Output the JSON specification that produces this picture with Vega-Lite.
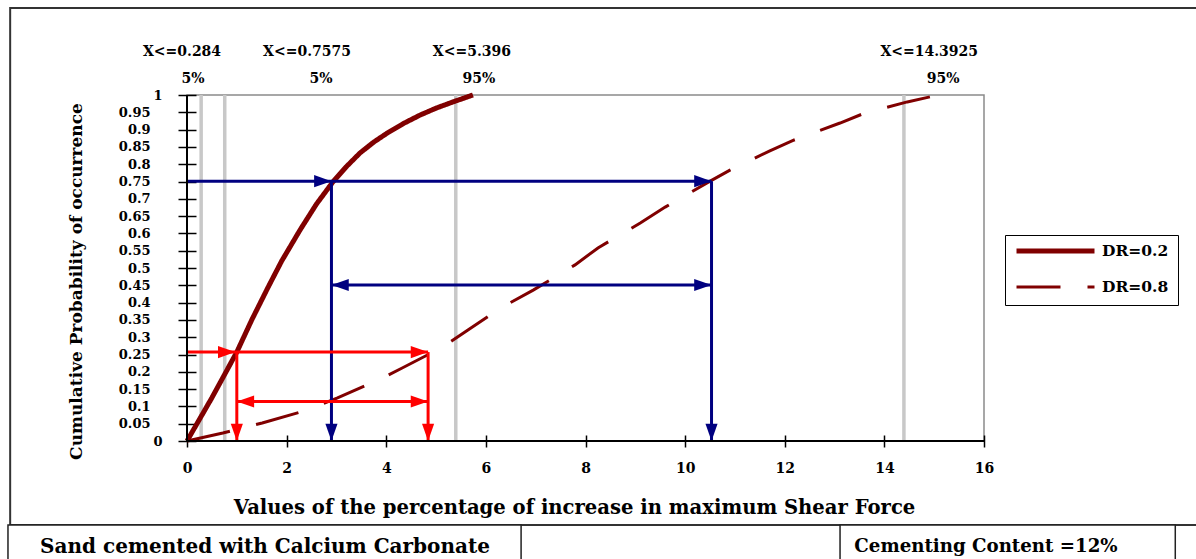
{
  "$schema": "https://vega.github.io/schema/vega-lite/v6.json",
  "width": 797,
  "height": 346,
  "autosize": {"type": "none"},
  "padding": {"left": 187, "top": 95, "right": 212, "bottom": 118},
  "background": "white",
  "config": {
    "view": {"stroke": "#8a8a8a", "strokeWidth": 1.5},
    "font": "DejaVu Serif",
    "axisX": {
      "tickCount": 8, "format": "d", "offset": -6, "tickSize": 12, "domain": false, "grid": false,
      "tickColor": "black", "tickWidth": 1.5, "labelFlush": false,
      "labelFont": "DejaVu Serif", "labelFontWeight": "bold", "labelFontSize": 14, "labelColor": "black",
      "labelPadding": 14
    },
    "axisY": {
      "tickCount": 20, "format": "~g", "offset": -9, "tickSize": 18, "domain": false, "grid": false,
      "tickColor": "black", "tickWidth": 1.5, "labelFlush": false,
      "labelFont": "DejaVu Serif", "labelFontWeight": "bold", "labelFontSize": 13, "labelColor": "black",
      "labelPadding": 28, "labelOverlap": false, "labelBound": false
    }
  },
  "datasets": {
    "curves": [
      {"series": "DR=0.2", "x": 0, "p": 0},
      {"series": "DR=0.2", "x": 0.5, "p": 0.125},
      {"series": "DR=0.2", "x": 1.0, "p": 0.257},
      {"series": "DR=0.2", "x": 1.3, "p": 0.35},
      {"series": "DR=0.2", "x": 1.63, "p": 0.445},
      {"series": "DR=0.2", "x": 1.9, "p": 0.52},
      {"series": "DR=0.2", "x": 2.27, "p": 0.61},
      {"series": "DR=0.2", "x": 2.6, "p": 0.685},
      {"series": "DR=0.2", "x": 2.93, "p": 0.749},
      {"series": "DR=0.2", "x": 3.2, "p": 0.793},
      {"series": "DR=0.2", "x": 3.47, "p": 0.832},
      {"series": "DR=0.2", "x": 3.75, "p": 0.864},
      {"series": "DR=0.2", "x": 4.02, "p": 0.89},
      {"series": "DR=0.2", "x": 4.35, "p": 0.918},
      {"series": "DR=0.2", "x": 4.68, "p": 0.942},
      {"series": "DR=0.2", "x": 5.0, "p": 0.962},
      {"series": "DR=0.2", "x": 5.34, "p": 0.98},
      {"series": "DR=0.2", "x": 5.74, "p": 1.0},
      {"series": "DR=0.8", "x": 0, "p": 0},
      {"series": "DR=0.8", "x": 0.72, "p": 0.023},
      {"series": "DR=0.8", "x": 1.51, "p": 0.052},
      {"series": "DR=0.8", "x": 2.43, "p": 0.09},
      {"series": "DR=0.8", "x": 3.01, "p": 0.124},
      {"series": "DR=0.8", "x": 3.84, "p": 0.176},
      {"series": "DR=0.8", "x": 4.32, "p": 0.211},
      {"series": "DR=0.8", "x": 5.14, "p": 0.272},
      {"series": "DR=0.8", "x": 5.64, "p": 0.321},
      {"series": "DR=0.8", "x": 6.29, "p": 0.384},
      {"series": "DR=0.8", "x": 6.95, "p": 0.436},
      {"series": "DR=0.8", "x": 7.79, "p": 0.509},
      {"series": "DR=0.8", "x": 8.25, "p": 0.558},
      {"series": "DR=0.8", "x": 9.1, "p": 0.63},
      {"series": "DR=0.8", "x": 9.6, "p": 0.676},
      {"series": "DR=0.8", "x": 10.44, "p": 0.746},
      {"series": "DR=0.8", "x": 10.9, "p": 0.783},
      {"series": "DR=0.8", "x": 11.69, "p": 0.838},
      {"series": "DR=0.8", "x": 12.19, "p": 0.87},
      {"series": "DR=0.8", "x": 13.11, "p": 0.919},
      {"series": "DR=0.8", "x": 13.61, "p": 0.948},
      {"series": "DR=0.8", "x": 14.46, "p": 0.98},
      {"series": "DR=0.8", "x": 15.08, "p": 1.0}
    ],
    "markers": [{"v": 0.284}, {"v": 0.7575}, {"v": 5.396}, {"v": 14.3925}],
    "arrows": [
      {"level": "p75", "x": 0, "x2": 10.53, "y": 0.751, "y2": 0.751},
      {"level": "p75", "x": 2.9, "x2": 2.9, "y": 0.751, "y2": 0},
      {"level": "p75", "x": 10.53, "x2": 10.53, "y": 0.751, "y2": 0},
      {"level": "p75", "x": 2.9, "x2": 10.53, "y": 0.451, "y2": 0.451},
      {"level": "p25", "x": 0, "x2": 4.84, "y": 0.257, "y2": 0.257},
      {"level": "p25", "x": 1.0, "x2": 1.0, "y": 0.257, "y2": 0},
      {"level": "p25", "x": 4.84, "x2": 4.84, "y": 0.257, "y2": 0},
      {"level": "p25", "x": 1.0, "x2": 4.84, "y": 0.114, "y2": 0.114}
    ],
    "heads": [
      {"level": "p75", "x": 2.9, "y": 0.751, "dir": "right"},
      {"level": "p75", "x": 10.53, "y": 0.751, "dir": "right"},
      {"level": "p75", "x": 2.9, "y": 0, "dir": "down"},
      {"level": "p75", "x": 10.53, "y": 0, "dir": "down"},
      {"level": "p75", "x": 2.9, "y": 0.451, "dir": "left"},
      {"level": "p75", "x": 10.53, "y": 0.451, "dir": "right"},
      {"level": "p25", "x": 0.97, "y": 0.257, "dir": "right"},
      {"level": "p25", "x": 4.84, "y": 0.257, "dir": "right"},
      {"level": "p25", "x": 1.0, "y": 0, "dir": "down"},
      {"level": "p25", "x": 4.84, "y": 0, "dir": "down"},
      {"level": "p25", "x": 1.0, "y": 0.114, "dir": "left"},
      {"level": "p25", "x": 4.84, "y": 0.114, "dir": "right"}
    ],
    "toplabels": [
      {"t": "X<=0.284", "lx": -0.1, "ly": 1.124},
      {"t": "5%", "lx": 0.12, "ly": 1.046},
      {"t": "X<=0.7575", "lx": 2.41, "ly": 1.124},
      {"t": "5%", "lx": 2.69, "ly": 1.046},
      {"t": "X<=5.396", "lx": 5.72, "ly": 1.124},
      {"t": "95%", "lx": 5.86, "ly": 1.046},
      {"t": "X<=14.3925", "lx": 14.9, "ly": 1.124},
      {"t": "95%", "lx": 15.18, "ly": 1.046}
    ],
    "notes": [
      {"t": "Sand cemented with Calcium Carbonate", "lx": 1.566, "ly": -0.306},
      {"t": "Cementing Content =12%", "lx": 16.04, "ly": -0.306}
    ]
  },
  "layer": [
    {
      "data": {"name": "markers"},
      "mark": {"type": "rule", "color": "#c8c8c8", "strokeWidth": 3.5},
      "encoding": {
        "x": {
          "field": "v", "type": "quantitative",
          "scale": {"domain": [0, 16], "nice": false, "zero": false},
          "axis": {
            "title": "Values of the percentage of increase in maximum Shear Force",
            "titleFont": "DejaVu Serif", "titleFontWeight": "bold", "titleFontSize": 19.6, "titleColor": "black",
            "titleX": 387, "titleY": 72, "titleAlign": "center", "titleBaseline": "middle"
          }
        },
        "y": {
          "datum": 0, "type": "quantitative",
          "scale": {"domain": [0, 1], "nice": false, "zero": false},
          "axis": {
            "title": "Cumulative Probability of occurrence",
            "labelPadding": {"condition": {"test": "datum.value == 0 || datum.value == 1", "value": 16}, "value": 28},
            "titleFont": "DejaVu Serif", "titleFontWeight": "bold", "titleFontSize": 17, "titleColor": "black",
            "titleX": -120, "titleY": 186, "titleAlign": "center", "titleBaseline": "middle", "titleAngle": -90
          }
        },
        "y2": {"datum": 1}
      }
    },
    {
      "data": {"values": [{}]},
      "mark": {"type": "rect", "fill": "transparent", "stroke": "#333333", "strokeWidth": 2, "clip": false},
      "encoding": {
        "x": {"datum": -3.55, "type": "quantitative"},
        "x2": {"datum": 20.44},
        "y": {"datum": 1.2514, "type": "quantitative"},
        "y2": {"datum": -0.2428}
      }
    },
    {
      "data": {"values": [{}]},
      "mark": {"type": "rect", "fill": "white", "stroke": "#222222", "strokeWidth": 1.5, "clip": false},
      "encoding": {
        "x": {"datum": -3.594, "type": "quantitative"},
        "x2": {"datum": 6.707},
        "y": {"datum": -0.2428, "type": "quantitative"},
        "y2": {"datum": -0.37}
      }
    },
    {
      "data": {"values": [{}]},
      "mark": {"type": "rect", "fill": "white", "stroke": "#222222", "strokeWidth": 1.5, "clip": false},
      "encoding": {
        "x": {"datum": 13.11, "type": "quantitative"},
        "x2": {"datum": 19.84},
        "y": {"datum": -0.2428, "type": "quantitative"},
        "y2": {"datum": -0.37}
      }
    },
    {
      "data": {"name": "curves"},
      "mark": {"type": "line", "clip": false},
      "encoding": {
        "x": {"field": "x", "type": "quantitative"},
        "y": {"field": "p", "type": "quantitative"},
        "color": {
          "field": "series", "type": "nominal",
          "scale": {"domain": ["DR=0.2", "DR=0.8"], "range": ["#800000", "#800000"]},
          "legend": {
            "orient": "none", "legendX": 818, "legendY": 140, "title": null,
            "strokeColor": "black", "padding": 9, "symbolType": "stroke", "symbolSize": 6084,
            "clipHeight": 14,
            "labelFont": "DejaVu Serif", "labelFontWeight": "bold", "labelFontSize": 15.5, "labelColor": "black",
            "rowPadding": 20, "labelOffset": 5
          }
        },
        "strokeDash": {
          "field": "series", "type": "nominal",
          "scale": {"domain": ["DR=0.2", "DR=0.8"], "range": [[1, 0], [44, 27]]}
        },
        "strokeWidth": {
          "field": "series", "type": "nominal",
          "scale": {"domain": ["DR=0.2", "DR=0.8"], "range": [5, 3]}
        }
      }
    },
    {
      "data": {"name": "arrows"},
      "transform": [{"filter": "datum.level == 'p75'"}],
      "mark": {"type": "rule", "strokeWidth": 3, "color": "#000080"},
      "encoding": {
        "x": {"field": "x", "type": "quantitative"},
        "x2": {"field": "x2"},
        "y": {"field": "y", "type": "quantitative"},
        "y2": {"field": "y2"}
      }
    },
    {
      "data": {"name": "arrows"},
      "transform": [{"filter": "datum.level == 'p25'"}],
      "mark": {"type": "rule", "strokeWidth": 3, "color": "#ff0000"},
      "encoding": {
        "x": {"field": "x", "type": "quantitative"},
        "x2": {"field": "x2"},
        "y": {"field": "y", "type": "quantitative"},
        "y2": {"field": "y2"}
      }
    },
    {
      "data": {"name": "heads"},
      "transform": [{"filter": "datum.level == 'p75'"}],
      "mark": {"type": "point", "filled": true, "opacity": 1, "size": 300, "strokeWidth": 0, "clip": false, "color": "#000080"},
      "encoding": {
        "x": {"field": "x", "type": "quantitative"},
        "y": {"field": "y", "type": "quantitative"},
        "shape": {"field": "dir", "type": "nominal", "scale": {"domain": ["right", "left", "down"], "range": ["M0,0L-2,-0.7L-2,0.7Z", "M0,0L2,-0.7L2,0.7Z", "M0,0L-0.7,-2L0.7,-2Z"]}, "legend": null}
      }
    },
    {
      "data": {"name": "heads"},
      "transform": [{"filter": "datum.level == 'p25'"}],
      "mark": {"type": "point", "filled": true, "opacity": 1, "size": 300, "strokeWidth": 0, "clip": false, "color": "#ff0000"},
      "encoding": {
        "x": {"field": "x", "type": "quantitative"},
        "y": {"field": "y", "type": "quantitative"},
        "shape": {"field": "dir", "type": "nominal", "scale": {"domain": ["right", "left", "down"], "range": ["M0,0L-2,-0.7L-2,0.7Z", "M0,0L2,-0.7L2,0.7Z", "M0,0L-0.7,-2L0.7,-2Z"]}, "legend": null}
      }
    },
    {
      "data": {"values": [{}]},
      "mark": {"type": "rule", "color": "black", "strokeWidth": 2},
      "encoding": {
        "x": {"datum": 0, "type": "quantitative"},
        "y": {"datum": 0, "type": "quantitative"},
        "y2": {"datum": 1}
      }
    },
    {
      "data": {"values": [{}]},
      "mark": {"type": "rule", "color": "black", "strokeWidth": 2},
      "encoding": {
        "x": {"datum": 0, "type": "quantitative"},
        "x2": {"datum": 16},
        "y": {"datum": 0, "type": "quantitative"}
      }
    },
    {
      "data": {"name": "toplabels"},
      "mark": {"type": "text", "font": "DejaVu Serif", "fontWeight": "bold", "fontSize": 14, "color": "black", "align": "center", "baseline": "middle", "clip": false},
      "encoding": {
        "x": {"field": "lx", "type": "quantitative"},
        "y": {"field": "ly", "type": "quantitative"},
        "text": {"field": "t", "type": "nominal"}
      }
    },
    {
      "data": {"name": "notes"},
      "transform": [{"filter": "indexof(datum.t, 'Sand') == 0"}],
      "mark": {"type": "text", "font": "DejaVu Serif", "fontWeight": "bold", "fontSize": 20, "color": "black", "align": "center", "baseline": "middle", "clip": false},
      "encoding": {
        "x": {"field": "lx", "type": "quantitative"},
        "y": {"field": "ly", "type": "quantitative"},
        "text": {"field": "t", "type": "nominal"}
      }
    },
    {
      "data": {"name": "notes"},
      "transform": [{"filter": "indexof(datum.t, 'Cementing') == 0"}],
      "mark": {"type": "text", "font": "DejaVu Serif", "fontWeight": "bold", "fontSize": 18.2, "color": "black", "align": "center", "baseline": "middle", "clip": false},
      "encoding": {
        "x": {"field": "lx", "type": "quantitative"},
        "y": {"field": "ly", "type": "quantitative"},
        "text": {"field": "t", "type": "nominal"}
      }
    }
  ]
}
